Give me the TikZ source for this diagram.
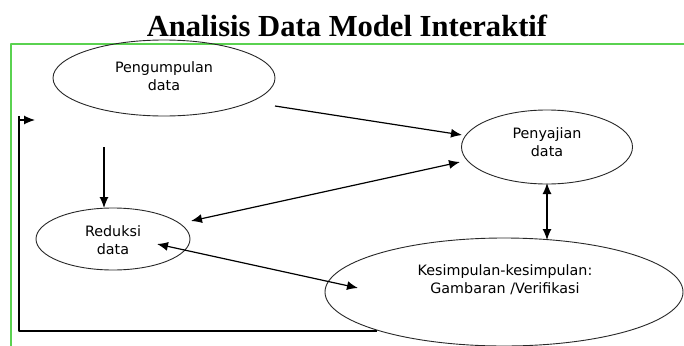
\documentclass[tikz,border=0pt]{standalone}
\usepackage{fontspec}
\setmainfont{DejaVu Sans}
\newfontfamily\titlefont{Liberation Serif}
\usepackage{tikz}
\usetikzlibrary{arrows.meta, calc, positioning, shapes.geometric}
\definecolor{frame_green}{RGB}{90,210,80}
\definecolor{ink_gray}{RGB}{40,40,40}
\tikzset{
	stage/.style={ellipse, draw=ink_gray, line width=0.9pt, inner sep=0pt, align=center,
		text=black, font=\fontsize{14.3}{18}\selectfont},
	flow/.style={line width=1.2pt, -{Latex[length=11pt,width=9pt]}},
	twoway/.style={line width=1.2pt, {Latex[length=11pt,width=9pt]}-{Latex[length=11pt,width=9pt]}}
}

\begin{document}
\begin{tikzpicture}[x=1pt,y=-1pt,line join=round]
	\useasboundingbox (0,0) rectangle (684,345);
	\fill[white] (0,0) rectangle (684,345);
	% title and frame
	\node[anchor=base, inner sep=0pt, font=\titlefont\bfseries\fontsize{30.6}{34}\selectfont] (title) at (347,37) {Analisis Data Model Interaktif};
	\draw[frame_green, line width=1.5pt] (11,350) -- (11,44) -- (690,44);
	% stages
	\node[stage, minimum width=222pt, minimum height=76pt] (peng) at (164,78) {};
	\node[stage, minimum width=171pt, minimum height=74pt] (pen)  at (547,147) {};
	\node[stage, minimum width=154pt, minimum height=62pt] (red)  at (113,239) {};
	\node[stage, minimum width=358pt, minimum height=108pt] (kes) at (504,292) {};
	\node[stage, draw=none] (pengtext) at (164,76)    {Pengumpulan\\data};
	\node[stage, draw=none] (pentext)  at (547,142.5) {Penyajian\\data};
	\node[stage, draw=none] (redtext)  at (113,240)   {Reduksi\\data};
	\node[stage, draw=none] (kestext)  at (505,279.5) {Kesimpulan-kesimpulan:\\Gambaran /Verifikasi};
	% connectors
	\draw[flow]   ($(peng)+(111,28)$) -- ($(pen)+(-85,-12)$);
	\draw[flow]   ($(peng)+(-60,69)$) -- ($(red)+(-9,-31)$);
	\draw[twoway] ($(pen)+(-87,15)$)  -- ($(red)+(78,-18)$);
	\draw[twoway] ($(red)+(44,5)$)    -- ($(kes)+(-146,-4)$);
	\draw[twoway] ($(pen)+(0,36)$)    -- ($(kes)+(43,-52)$);
	% feedback loop
	\coordinate (loopcorner) at (19,331);
	\coordinate (looptop) at (19,116);
	\coordinate (loopstart) at (19,120);
	\coordinate (loopend) at (35,120);
	\draw[line width=1.2pt] ($(kes)+(-127,39)$) -- (loopcorner) -- (looptop);
	\draw[flow] (loopstart) -- (loopend);
\end{tikzpicture}
\end{document}
